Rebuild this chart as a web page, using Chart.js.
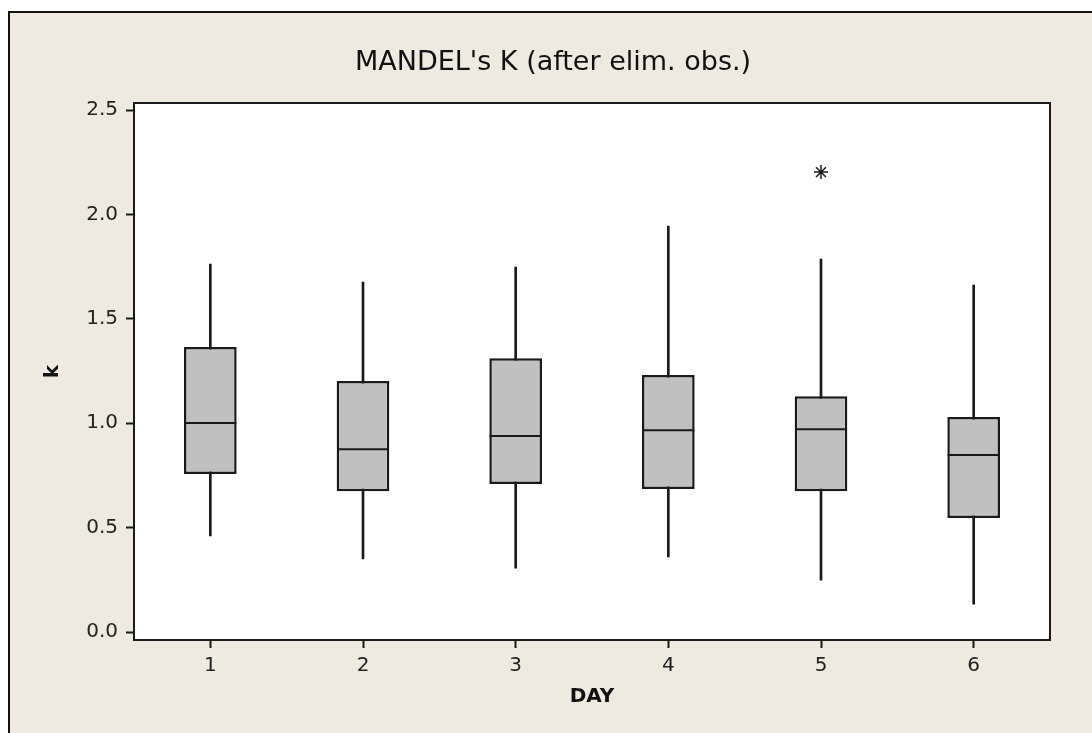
<!DOCTYPE html>
<html>
<head>
<meta charset="utf-8">
<script src="https://cdn.jsdelivr.net/npm/chart.js@4/dist/chart.umd.min.js"></script>
<style>
  html, body { margin: 0; padding: 0; background: #fff; }
  #frame {
    position: absolute; left: 8px; top: 11px; right: 0; bottom: 0;
    background: #EEEAE0;
    border-left: 2px solid #111; border-top: 2px solid #111;
  }
  #wrap { position: absolute; left: 0; top: 0; width: 1092px; height: 733px; }
</style>
</head>
<body>
<div id="frame"></div>
<div id="wrap"><canvas id="mainCanvas" width="1092" height="733"></canvas></div>
<script>
// Box plot figures per day
const days = ["1", "2", "3", "4", "5", "6"];
const whiskerLow  = [0.46, 0.35, 0.306, 0.36, 0.249, 0.134];
const quartile1   = [0.757, 0.675, 0.709, 0.685, 0.675, 0.546];
const medians     = [1.001, 0.876, 0.939, 0.967, 0.972, 0.848];
const quartile3   = [1.365, 1.202, 1.312, 1.231, 1.130, 1.030];
const whiskerHigh = [1.762, 1.676, 1.748, 1.944, 1.786, 1.662];
const outliers    = [null, null, null, null, 2.203, null];
const yTicks = [0, 0.5, 1.0, 1.5, 2.0, 2.5];

const ink = "#1a1a1a";
const font = "'DejaVu Sans', sans-serif";

/**
 * Fills the plot area white and draws the frame round it
 */
const plotFrame = {
  id: "plotFrame",
  beforeDraw(chart) {
    const { ctx, chartArea: a } = chart;
    ctx.save();
    ctx.fillStyle = "#fff";
    ctx.fillRect(a.left, a.top, a.right - a.left, a.bottom - a.top);
    ctx.restore();
  },
  afterDraw(chart) {
    const { ctx, chartArea: a } = chart;
    ctx.save();
    ctx.strokeStyle = ink;
    ctx.lineWidth = 2;
    ctx.strokeRect(a.left, a.top, a.right - a.left, a.bottom - a.top);
    ctx.restore();
  },
};

const ctx = document.getElementById("mainCanvas").getContext("2d");

new Chart(ctx, {
  type: "bar",
  data: {
    labels: days,
    datasets: [
      {
        label: "whiskers",
        data: whiskerLow.map((lo, i) => [lo, whiskerHigh[i]]),
        backgroundColor: ink,
        barThickness: 2,
        grouped: false,
        order: 3,
      },
      {
        label: "boxes",
        data: quartile1.map((q1, i) => [q1, quartile3[i]]),
        backgroundColor: "#C0C0C0",
        borderColor: ink,
        borderWidth: 2.5,
        borderSkipped: false,
        barPercentage: 0.345,
        categoryPercentage: 1,
        grouped: false,
        order: 2,
      },
      {
        type: "line",
        label: "median",
        data: medians,
        showLine: false,
        pointStyle: "line",
        pointRadius: 26,
        pointBorderWidth: 2,
        borderColor: ink,
        order: 1,
      },
      {
        type: "line",
        label: "outlier",
        data: outliers,
        showLine: false,
        pointStyle: "star",
        pointRadius: 7,
        pointBorderWidth: 1.5,
        borderColor: ink,
        order: 0,
      },
    ],
  },
  options: {
    responsive: false,
    animation: false,
    events: [],
    layout: { padding: { left: 14, top: 0, right: 0, bottom: 0 } },
    plugins: {
      legend: { display: false },
      tooltip: { enabled: false },
      title: {
        display: true,
        text: "MANDEL's K (after elim. obs.)",
        color: "#111",
        font: { family: font, size: 27, weight: "normal", lineHeight: 1.2 },
        padding: { top: 47, bottom: 23.6 },
      },
    },
    scales: {
      x: {
        offset: true,
        grid: {
          offset: false,
          drawOnChartArea: false,
          tickLength: 8,
          tickWidth: 2,
          tickColor: ink,
        },
        border: { display: false },
        ticks: { color: "#222", padding: 6, font: { family: font, size: 20 } },
        title: {
          display: true,
          text: "DAY",
          color: "#111",
          font: { family: font, size: 20, weight: "bold", lineHeight: 1.2 },
          padding: { top: 0, bottom: 24 },
        },
        afterFit(scale) { scale.height = 93; },
      },
      y: {
        min: -0.038,
        max: 2.534,
        grid: {
          drawOnChartArea: false,
          tickLength: 8,
          tickWidth: 2,
          tickColor: ink,
        },
        border: { display: false },
        afterBuildTicks(scale) {
          scale.ticks = yTicks.map(v => ({ value: v }));
        },
        ticks: {
          color: "#222",
          padding: 8,
          font: { family: font, size: 20 },
          callback: v => Number(v).toFixed(1),
        },
        title: {
          display: true,
          text: "k",
          color: "#111",
          font: { family: font, size: 20, weight: "bold", lineHeight: 1.2 },
          padding: { top: 27, bottom: 0 },
        },
        afterFit(scale) { scale.width = 120; },
      },
      spare: {
        type: "linear",
        position: "right",
        display: true,
        grid: { display: false },
        border: { display: false },
        ticks: { display: false },
        afterFit(scale) { scale.width = 42; },
      },
    },
  },
  plugins: [plotFrame],
});
</script>
</body>
</html>
